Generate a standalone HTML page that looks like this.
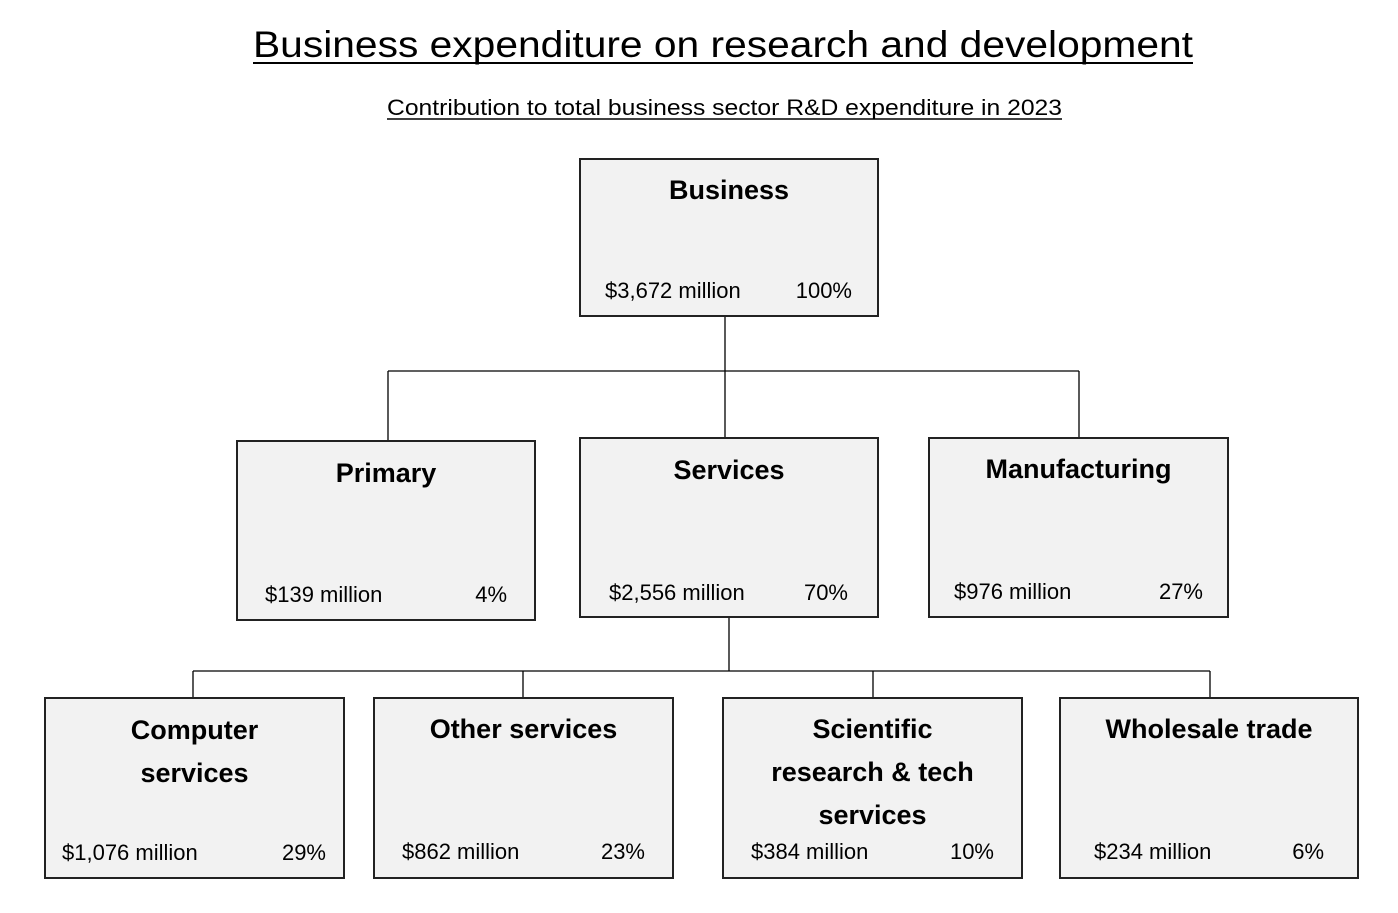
<!DOCTYPE html>
<html><head><meta charset="utf-8"><style>
html,body{margin:0;padding:0;background:#fff}
svg{display:block}
text{font-family:"Liberation Sans",Arial,sans-serif;fill:#000}
.t{font-weight:bold;font-size:27px}
.v{font-size:22px}
</style></head><body>
<svg width="1398" height="913" viewBox="0 0 1398 913">
<g>
<text x="253" y="57" font-size="37" textLength="940" lengthAdjust="spacingAndGlyphs">Business expenditure on research and development</text>
<line x1="253" y1="63" x2="1193" y2="63" stroke="#000" stroke-width="2"/>
</g>
<g>
<text x="387" y="115" font-size="22" textLength="675" lengthAdjust="spacingAndGlyphs">Contribution to total business sector R&amp;D expenditure in 2023</text>
<line x1="387" y1="119" x2="1062" y2="119" stroke="#000" stroke-width="1.5"/>
</g>
<g stroke="#000" stroke-width="1.3" fill="none">
<path d="M725 316V371M388 371H1079M388 371V441M725 371V438M1079 371V438"/>
<path d="M729 617V671M193 671H1210M193 671V698M523 671V698M873 671V698M1210 671V698"/>
</g>
<g id="nodes"></g>
</svg>
<script>
const names=[["Business"],["Primary"],["Services"],["Manufacturing"],["Computer","services"],["Other services"],["Scientific","research & tech","services"],["Wholesale trade"]];
const amounts=["$3,672 million","$139 million","$2,556 million","$976 million","$1,076 million","$862 million","$384 million","$234 million"];
const shares=["100%","4%","70%","27%","29%","23%","10%","6%"];
// layout (not data)
const boxes=[[580,159,298,157,199,298,605,852],[237,441,298,179,482,602,265,507],[580,438,298,179,479,600,609,848],[929,438,299,179,478,599,954,1203],[45,698,299,180,739,860,62,326],[374,698,299,180,738,859,402,645],[723,698,299,180,738,859,751,994],[1060,698,298,180,738,859,1094,1324]];
const NS="http://www.w3.org/2000/svg";
const g=document.getElementById('nodes');
function mk(t,a,p){const e=document.createElementNS(NS,t);for(const k in a)e.setAttribute(k,a[k]);p.appendChild(e);return e;}
boxes.forEach((b,i)=>{
 const grp=mk('g',{},g);
 
 
 mk('rect',{x:b[0],y:b[1],width:b[2],height:b[3],fill:'#f2f2f2',stroke:'#222','stroke-width':2},grp);
 const cx=b[0]+b[2]/2;
 names[i].forEach((ln,j)=>{const t=mk('text',{x:cx,y:b[4]+j*43,'text-anchor':'middle',class:'t'},grp);t.textContent=ln;
  
  });
 const a=mk('text',{x:b[6],y:b[5],class:'v'},grp);a.textContent=amounts[i];
 
 
 const s=mk('text',{x:b[7],y:b[5],class:'v','text-anchor':'end'},grp);s.textContent=shares[i];
 
 
});
</script>
</body></html>
